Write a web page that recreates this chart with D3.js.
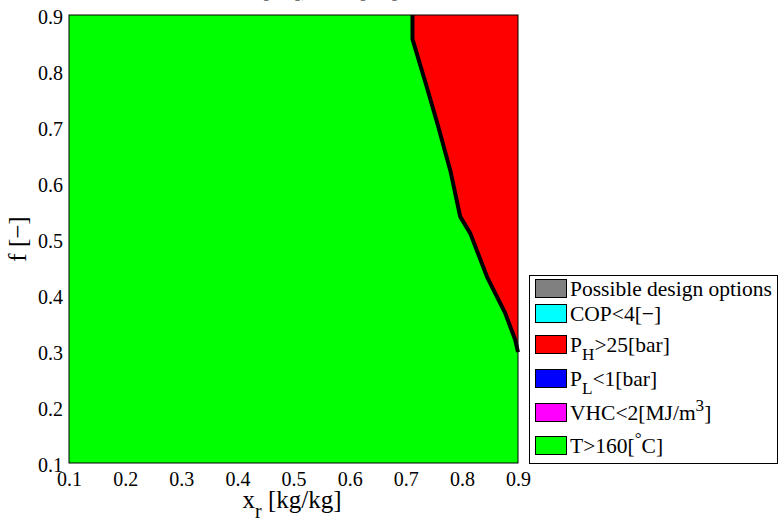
<!DOCTYPE html>
<html>
<head>
<meta charset="utf-8">
<script src="https://cdn.jsdelivr.net/npm/d3@7"></script>
<style>
  html, body { margin: 0; padding: 0; background: #fff; }
  svg { display: block; font-family: "Liberation Serif", "Times New Roman", serif; }
  svg text { font-family: "Liberation Serif", "Times New Roman", serif; }
</style>
</head>
<body>
<svg id="chart" width="779" height="524"></svg>
<script>
// Design-space boundary: above/right of this curve P_H exceeds the limit
const boundaryX = [0.712, 0.712, 0.735, 0.757, 0.780, 0.797, 0.815, 0.845, 0.877, 0.895, 0.900];
const boundaryF = [0.900, 0.857, 0.780, 0.704, 0.620, 0.540, 0.510, 0.432, 0.368, 0.320, 0.298];

const xTicks = [0.1, 0.2, 0.3, 0.4, 0.5, 0.6, 0.7, 0.8, 0.9];
const yTicks = [0.1, 0.2, 0.3, 0.4, 0.5, 0.6, 0.7, 0.8, 0.9];
const xDomain = [0.1, 0.9];
const yDomain = [0.1, 0.9];

// Legend entries: label pieces as [text, kind] where kind is "n", "sub" or "sup"
const legendColors = ["#808080", "#00ffff", "#ff0000", "#0000ff", "#ff00ff", "#00ff00"];
const legendLabels = [
  [["Possible design options", "n"]],
  [["COP<4[\u2212]", "n"]],
  [["P", "n"], ["H", "sub"], [">25[bar]", "n"]],
  [["P", "n"], ["L", "sub"], ["<1[bar]", "n"]],
  [["VHC<2[MJ/m", "n"], ["3", "sup"], ["]", "n"]],
  [["T>160[", "n"], ["\u00b0", "sup"], ["C]", "n"]]
];

const titleParts = [["T=150 [bar], ", "n"], ["f=0.5 [bar]", "n"]];

const svg = d3.select("#chart");
const m = { left: 69, right: 518, top: 15, bottom: 463 };

const x = d3.scaleLinear().domain(xDomain).range([m.left, m.right]);
const y = d3.scaleLinear().domain(yDomain).range([m.bottom, m.top]);

const line = d3.line().x(d => x(d[0])).y(d => y(d[1]));
const boundary = boundaryX.map((v, i) => [v, boundaryF[i]]);

// Region left of the boundary (temperature limit)
const greenPoly = [[xDomain[0], yDomain[0]], [xDomain[0], yDomain[1]], ...boundary, [xDomain[1], yDomain[0]]];
// Region right of the boundary (high pressure limit)
const redPoly = [...boundary, [xDomain[1], yDomain[1]]];

svg.append("path").attr("d", line(greenPoly) + "Z").attr("fill", "#00ff00");
svg.append("path").attr("d", line(redPoly) + "Z").attr("fill", "#ff0000");
svg.append("path").attr("d", line(boundary)).attr("fill", "none")
  .attr("stroke", "#000").attr("stroke-width", 4).attr("stroke-linejoin", "round");

// Axes box
svg.append("rect")
  .attr("x", m.left).attr("y", m.top)
  .attr("width", m.right - m.left).attr("height", m.bottom - m.top)
  .attr("fill", "none").attr("stroke", "#000").attr("stroke-width", 1);

// Tick labels
const xAxis = d3.axisBottom(x).tickValues(xTicks).tickSize(0).tickPadding(0).tickFormat(d3.format(".1f"));
const gx = svg.append("g").attr("transform", `translate(0,${m.bottom})`).call(xAxis)
  .attr("font-family", null).attr("font-size", null);
gx.select(".domain").remove();
gx.selectAll("text").style("font-size", "20px").style("font-family", "'Liberation Serif', serif")
  .attr("fill", "#000").attr("dy", null).attr("y", 23);

const yAxis = d3.axisLeft(y).tickValues(yTicks).tickSize(0).tickPadding(0).tickFormat(d3.format(".1f"));
const gy = svg.append("g").attr("transform", `translate(${m.left},0)`).call(yAxis)
  .attr("font-family", null).attr("font-size", null);
gy.select(".domain").remove();
gy.selectAll("text").style("font-size", "20px").style("font-family", "'Liberation Serif', serif")
  .attr("fill", "#000").attr("x", -6).attr("dy", "0.42em");

function richText(sel, parts, size) {
  parts.forEach(([t, kind], i) => {
    const prev = i > 0 ? parts[i - 1][1] : "n";
    let dy = 0;
    if (kind === "sub") dy = size * 0.38;
    if (kind === "sup") dy = -size * 0.42;
    if (kind === "n" && prev === "sub") dy = -size * 0.38;
    if (kind === "n" && prev === "sup") dy = size * 0.42;
    sel.append("tspan").attr("dy", dy)
      .style("font-size", (kind === "n" ? size : size * 0.8) + "px")
      .text(t);
  });
}

// Axis titles
const xl = svg.append("text").attr("x", 292).attr("y", 508).attr("text-anchor", "middle");
richText(xl, [["x", "n"], ["r", "sub"], [" [kg/kg]", "n"]], 25);

svg.append("text")
  .attr("transform", "translate(26,239) rotate(-90)")
  .attr("text-anchor", "middle").style("font-size", "25px")
  .text("f [\u2212]");

// Title (largely above the visible area)
const tt = svg.append("text").attr("x", 301).attr("y", -3).attr("text-anchor", "middle");
richText(tt, titleParts, 20);

// Legend
const lg = svg.append("g");
lg.append("rect").attr("x", 529.5).attr("y", 275.5).attr("width", 248).attr("height", 188)
  .attr("fill", "#fff").attr("stroke", "#000").attr("stroke-width", 1);
const rowY = [279, 304, 335, 369, 403, 436];
legendLabels.forEach((parts, i) => {
  lg.append("rect").attr("x", 535.5).attr("y", rowY[i] + 0.5).attr("width", 31).attr("height", 18)
    .attr("fill", legendColors[i]).attr("stroke", "#000").attr("stroke-width", 1);
  const t = lg.append("text").attr("x", 570).attr("y", rowY[i] + 17);
  richText(t, parts, 21.5);
});
</script>
</body>
</html>
